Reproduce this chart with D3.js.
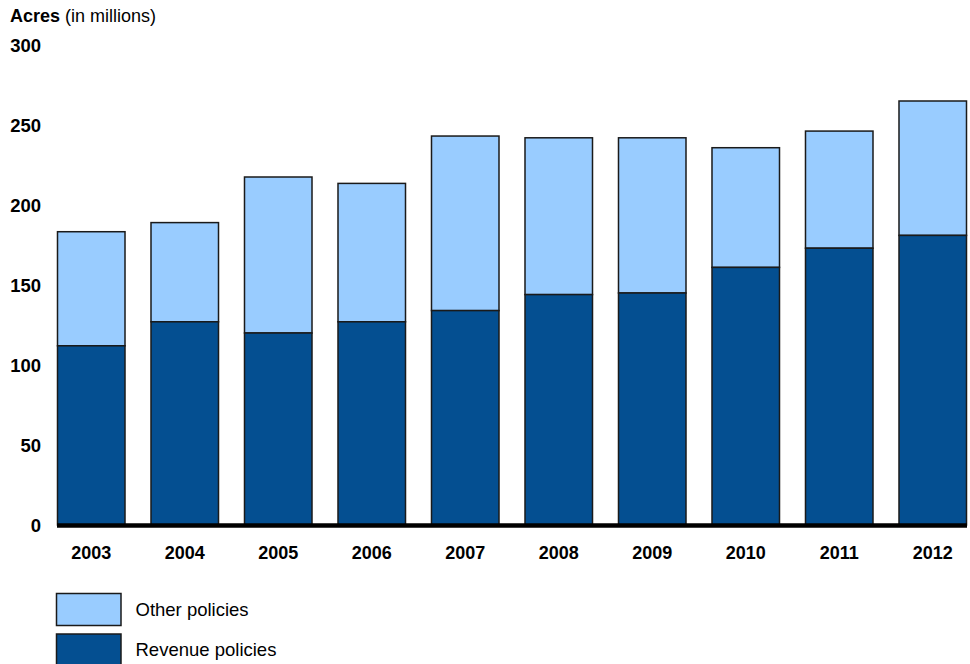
<!DOCTYPE html>
<html><head><meta charset="utf-8">
<script src="https://cdn.jsdelivr.net/npm/d3@7"></script>
<style>body{margin:0;background:#fff}svg{display:block;font-family:"Liberation Sans",Arial,sans-serif}</style>
</head><body>
<script>
const years = ["2003","2004","2005","2006","2007","2008","2009","2010","2011","2012"];
const revenue = [112, 127, 120, 127, 134, 144, 145, 161, 173, 181];
const other = [71.3, 62, 97.5, 86.5, 109.1, 98, 97, 74.8, 73.2, 84];
const yTicks = [0, 50, 100, 150, 200, 250, 300];
const seriesNames = ["Other policies", "Revenue policies"];

const W = 970, H = 664;
const svg = d3.select("body").append("svg").attr("width", W).attr("height", H);
const x = d3.scaleBand().domain(years).range([57.5, 966.5]).paddingInner(0.278).paddingOuter(0);
const y = d3.scaleLinear().domain([0, 300]).range([525, 45]);
const cDark = "#044f91", cLight = "#99ccff", stroke = "#1a1a1a";

// y tick labels
svg.append("g").selectAll("text").data(yTicks).join("text")
  .attr("x", 41).attr("y", d => y(d) + 1).attr("dy", "0.35em")
  .attr("text-anchor", "end").attr("font-weight", "bold").attr("font-size", 18.5).attr("fill", "#000")
  .text(d => d);

// title
const t = svg.append("text").attr("x", 10).attr("y", 22).attr("font-size", 18).attr("fill", "#000");
t.append("tspan").attr("font-weight", "bold").text("Acres");
t.append("tspan").text(" (in millions)");

const data = years.map((yr, i) => ({yr, rev: revenue[i], oth: other[i]}));
const g = svg.append("g");
g.selectAll("rect.o").data(data).join("rect").attr("class", "o")
  .attr("x", d => x(d.yr)).attr("width", x.bandwidth())
  .attr("y", d => y(d.rev + d.oth)).attr("height", d => y(d.rev) - y(d.rev + d.oth))
  .attr("fill", cLight).attr("stroke", stroke).attr("stroke-width", 1.5);
g.selectAll("rect.r").data(data).join("rect").attr("class", "r")
  .attr("x", d => x(d.yr)).attr("width", x.bandwidth())
  .attr("y", d => y(d.rev)).attr("height", d => y(0) - y(d.rev))
  .attr("fill", cDark).attr("stroke", stroke).attr("stroke-width", 1.5);

// baseline
svg.append("line").attr("x1", 57).attr("x2", 967).attr("y1", y(0) + 0.5).attr("y2", y(0) + 0.5)
  .attr("stroke", "#000").attr("stroke-width", 4.5);

// x labels
svg.append("g").selectAll("text").data(years).join("text")
  .attr("x", d => x(d) + x.bandwidth() / 2).attr("y", 553).attr("dy", "0.35em")
  .attr("text-anchor", "middle").attr("font-weight", "bold").attr("font-size", 18).attr("fill", "#000")
  .text(d => d);

// legend
const leg = svg.append("g").selectAll("g").data(seriesNames).join("g")
  .attr("transform", (d, i) => `translate(56.5,${593.5 + i * 40.5})`);
leg.append("rect").attr("width", 64.5).attr("height", 32)
  .attr("fill", (d, i) => i === 0 ? cLight : cDark).attr("stroke", stroke).attr("stroke-width", 1.5);
leg.append("text").attr("x", 79).attr("y", 16).attr("dy", "0.35em").attr("font-size", 18.5).attr("fill", "#000")
  .text(d => d);
</script>
</body></html>
